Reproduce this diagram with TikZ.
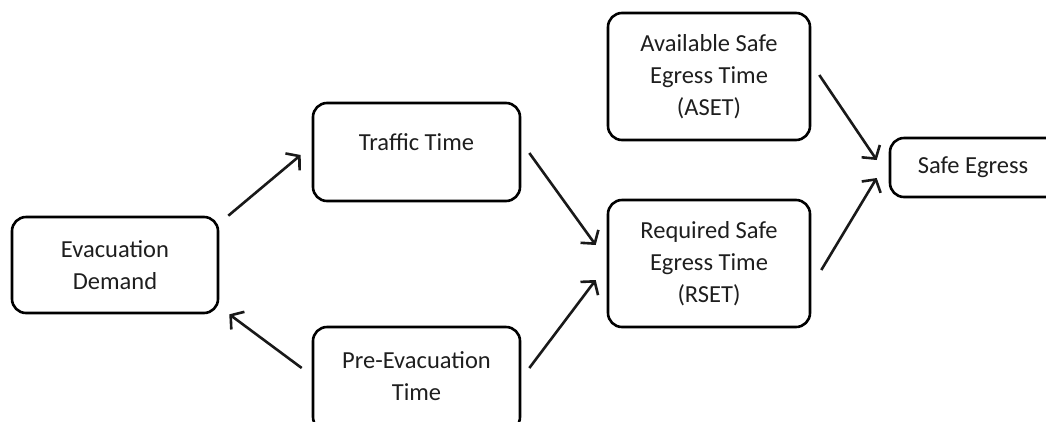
\documentclass[tikz,border=0pt]{standalone}
\usepackage{fontspec}
\setmainfont{Carlito}
\usetikzlibrary{arrows.meta}
\definecolor{txt}{RGB}{30,30,30}
\begin{document}
\begin{tikzpicture}[x=1pt,y=-1pt,
  box/.style={draw=black, line width=2.6pt, rounded corners=14pt, align=center,
    text=txt, font=\fontsize{24.5}{32}\selectfont, inner sep=0pt},
  arr/.style={line width=2.6pt, draw=black!90, -{Straight Barb[length=9pt,width=22pt]}}]
\useasboundingbox (0,0) rectangle (1046,421);
\clip (0,0) rectangle (1046,421);
\node[box, minimum width=206pt, minimum height=96pt] (evac) at (115,265) {Evacuation\\Demand};
\node[box, minimum width=207pt, minimum height=98pt, text height=14pt, text depth=18pt] (traffic) at (416.5,152) {Traffic Time};
\node[box, minimum width=207pt, minimum height=104pt, text height=47pt, text depth=5pt] (pre) at (416.5,379) {Pre-Evacuation\\Time};
\node[box, minimum width=202pt, minimum height=127pt] (aset) at (709,76.5) {Available Safe\\Egress Time\\(ASET)};
\node[box, minimum width=202pt, minimum height=127pt] (rset) at (709,263.5) {Required Safe\\Egress Time\\(RSET)};
\node[box, minimum width=184pt, minimum height=59pt] (safe) at (982,167.5) {Safe Egress\hspace*{18pt}};
\draw[arr] ([shift={(9,0)}]evac.north east) -- ([shift={(-11,3)}]traffic.west);
\draw[arr] ([shift={(-10,-11)}]pre.west) -- ([shift={(10,0)}]evac.south east);
\draw[arr] ([shift={(8,1)}]traffic.east) -- ([shift={(-11,-18.5)}]rset.west);
\draw[arr] ([shift={(8,-11)}]pre.east) -- ([shift={(-11,16.5)}]rset.west);
\draw[arr] ([shift={(8,-1.5)}]aset.east) -- ([shift={(-12,-7.5)}]safe.west);
\draw[arr] ([shift={(10,6.5)}]rset.east) -- ([shift={(-12,10.5)}]safe.west);
\end{tikzpicture}
\end{document}
